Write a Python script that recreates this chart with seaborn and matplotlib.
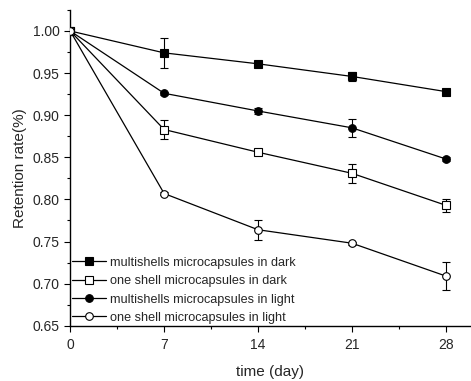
import numpy as np
import pandas as pd
import seaborn as sns
import matplotlib.pyplot as plt

# dados
days = [0, 7, 14, 21, 28]
multi_dark = [1.000, 0.974, 0.961, 0.946, 0.928]
multi_dark_err = [0.0, 0.018, 0.002, 0.005, 0.002]
one_dark = [1.000, 0.883, 0.856, 0.831, 0.793]
one_dark_err = [0.0, 0.011, 0.002, 0.011, 0.008]
multi_light = [1.000, 0.926, 0.905, 0.885, 0.848]
multi_light_err = [0.0, 0.002, 0.004, 0.011, 0.002]
one_light = [1.000, 0.807, 0.764, 0.748, 0.709]
one_light_err = [0.0, 0.002, 0.012, 0.002, 0.017]

labels = ['multishells microcapsules in dark',
          'one shell microcapsules in dark',
          'multishells microcapsules in light',
          'one shell microcapsules in light']

series = [
    (multi_dark, multi_dark_err, 's', 'black'),
    (one_dark, one_dark_err, 's', 'white'),
    (multi_light, multi_light_err, 'o', 'black'),
    (one_light, one_light_err, 'o', 'white'),
]

sns.set_style('ticks')
plt.rcParams['font.family'] = ['Liberation Sans', 'DejaVu Sans']

fig = plt.figure(figsize=(4.71, 3.81), dpi=100)
ax = fig.add_axes([0.149, 0.145, 0.849, 0.829])

for (vals, errs, mk, fc), lab in zip(series, labels):
    df = pd.DataFrame({'day': days, 'rate': vals})
    ax.errorbar(days, vals, yerr=errs, fmt='none', ecolor='black',
                elinewidth=0.8, capsize=3, capthick=0.8, zorder=2)
    sns.lineplot(data=df, x='day', y='rate', ax=ax, color='black',
                 linewidth=0.9, marker=mk, markersize=5.5,
                 markerfacecolor=fc, markeredgecolor='black',
                 markeredgewidth=0.8, label=lab, zorder=3)

ax.set_xlim(0, 29.8)
ax.set_ylim(0.65, 1.025)
ax.set_xticks(days)
ax.set_xticks(np.arange(3.5, 29, 7), minor=True)
ax.set_yticks(np.arange(0.65, 1.001, 0.05))
ax.set_yticks(np.arange(0.675, 1.03, 0.05), minor=True)
ax.yaxis.set_major_formatter(plt.FormatStrFormatter('%.2f'))
ax.tick_params(which='major', direction='out', length=4, width=0.8,
               labelsize=10, color='black')
ax.tick_params(axis='x', which='major', pad=5)
ax.tick_params(which='minor', direction='out', length=2.5, width=0.8,
               color='black')
for s in ['left', 'bottom']:
    ax.spines[s].set_linewidth(1.0)
    ax.spines[s].set_color('black')
sns.despine(ax=ax)

ax.set_xlabel('time (day)', fontsize=11, labelpad=9)
ax.set_ylabel('Retention rate(%)', fontsize=11)

ax.legend(loc='lower left', frameon=False, fontsize=9.1, handlelength=2.7,
          handletextpad=0.3, labelspacing=0.5, borderaxespad=0.0,
          borderpad=0.15)

fig.savefig('out.png', dpi=100)
